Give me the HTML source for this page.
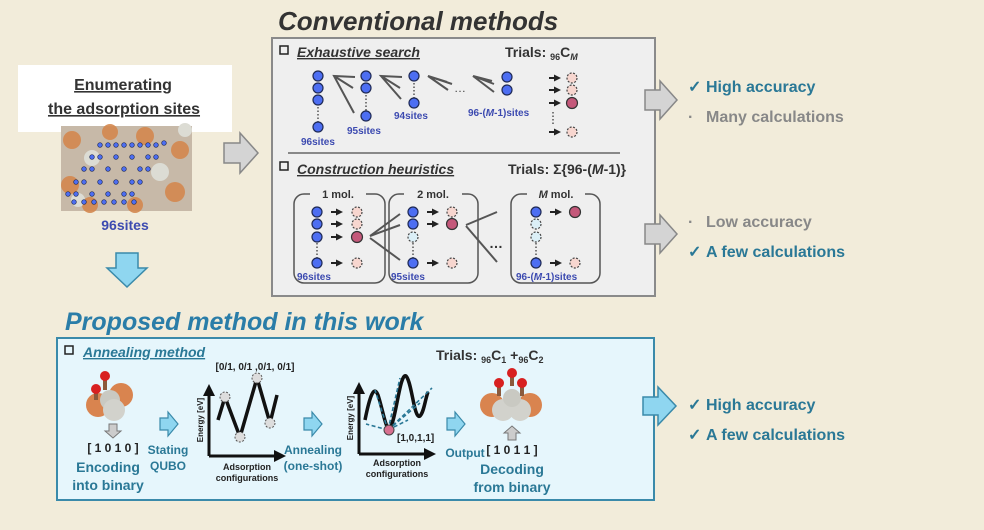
<!DOCTYPE html>
<html><head><meta charset="utf-8"><style>
body{margin:0;background:#f2ecda;}
svg{display:block;font-family:"Liberation Sans",sans-serif;}
</style></head><body>
<svg width="984" height="530" viewBox="0 0 984 530" xmlns="http://www.w3.org/2000/svg">
<defs>
<marker id="ah" markerUnits="userSpaceOnUse" markerWidth="7" markerHeight="7" refX="4" refY="3.5" orient="auto"><path d="M0,0 L7,3.5 L0,7 z" fill="#222"/></marker>
<marker id="ah2" markerUnits="userSpaceOnUse" markerWidth="12" markerHeight="12" refX="6" refY="6" orient="auto"><path d="M0,0 L12,6 L0,12 z" fill="#111"/></marker>
<g id="b"><circle r="5" fill="#4d6ef2" stroke="#1f2a55" stroke-width="1.2"/></g>
<g id="p"><circle r="5" fill="#f7d6cf" stroke="#444" stroke-width="1.2" stroke-dasharray="2,1.5"/></g>
<g id="r"><circle r="5.5" fill="#c4587a" stroke="#333" stroke-width="1.2"/></g>
<g id="c"><circle r="5" fill="#dbeff7" stroke="#444" stroke-width="1.2" stroke-dasharray="2,1.5"/></g>
<g id="ar"><line x1="0" y1="0" x2="9" y2="0" stroke="#222" stroke-width="2" marker-end="url(#ah)"/></g>
</defs>
<rect width="984" height="530" fill="#f2ecda"/>

<!-- Conventional -->
<text x="278" y="30" font-size="26" font-weight="bold" font-style="italic" fill="#333">Conventional methods</text>
<rect x="272" y="38" width="383" height="258" fill="#efefef" stroke="#8a8a8a" stroke-width="2"/>
<rect x="280" y="46" width="8" height="8" fill="none" stroke="#222" stroke-width="1.5"/>
<text x="297" y="57" font-size="14" font-weight="bold" font-style="italic" fill="#333" text-decoration="underline">Exhaustive search</text>
<text x="505" y="57" font-size="14" font-weight="bold" fill="#333">Trials: <tspan font-size="9" dy="3">96</tspan><tspan dy="-3">C</tspan><tspan font-size="9" dy="3" font-style="italic">M</tspan></text>

<g stroke="#555" stroke-width="1.5" stroke-dasharray="1.5,2"><line x1="318" y1="100" x2="318" y2="127"/><line x1="366" y1="88" x2="366" y2="116"/><line x1="414" y1="76" x2="414" y2="103"/><line x1="553" y1="112" x2="553" y2="126"/></g>
<use href="#b" x="318" y="76"/><use href="#b" x="318" y="88"/><use href="#b" x="318" y="100"/><use href="#b" x="318" y="127"/>
<use href="#b" x="366" y="76"/><use href="#b" x="366" y="88"/><use href="#b" x="366" y="116"/>
<use href="#b" x="414" y="76"/><use href="#b" x="414" y="103"/>
<use href="#b" x="507" y="77"/><use href="#b" x="507" y="90"/>
<g stroke="#555" stroke-width="2" fill="none">
<path d="M355,77 L334,76 L354,113 M334,76 L353,88"/>
<path d="M402,77 L381,76 L401,99 M381,76 L400,88"/>
<path d="M452,84 L428,76 L448,90 M428,76 L447,82"/>
<path d="M494,84 L473,76 L494,92 M473,76 L492,81"/>
</g>
<text x="454" y="92" font-size="12" fill="#444">…</text>
<g font-size="10" font-weight="bold" fill="#3c4ab0">
<text x="301" y="145">96sites</text><text x="347" y="134">95sites</text><text x="394" y="119">94sites</text><text x="468" y="116">96-(<tspan font-style="italic">M</tspan>-1)sites</text>
</g>
<use href="#ar" x="549" y="78"/><use href="#ar" x="549" y="90"/><use href="#ar" x="549" y="103"/><use href="#ar" x="549" y="132"/>
<use href="#p" x="572" y="78"/><use href="#p" x="572" y="90"/><use href="#r" x="572" y="103"/><use href="#p" x="572" y="132"/>
<line x1="288" y1="153" x2="620" y2="153" stroke="#666" stroke-width="1.5"/>

<rect x="280" y="162" width="8" height="8" fill="none" stroke="#222" stroke-width="1.5"/>
<text x="297" y="174" font-size="14" font-weight="bold" font-style="italic" fill="#333" text-decoration="underline">Construction heuristics</text>
<text x="508" y="174" font-size="14" font-weight="bold" fill="#333">Trials: Σ{96-(<tspan font-style="italic">M</tspan>-1)}</text>

<g fill="none" stroke="#555" stroke-width="1.5">
<rect x="294" y="194" width="91" height="89" rx="10"/>
<rect x="389" y="194" width="89" height="89" rx="10"/>
<rect x="511" y="194" width="89" height="89" rx="10"/>
</g>
<g font-size="11" font-weight="bold" fill="#333" text-anchor="middle">
<rect x="310" y="188" width="56" height="12" fill="#efefef"/><text x="338" y="198">1 mol.</text>
<rect x="404" y="188" width="58" height="12" fill="#efefef"/><text x="433" y="198">2 mol.</text>
<rect x="527" y="188" width="58" height="12" fill="#efefef"/><text x="556" y="198"><tspan font-style="italic">M</tspan> mol.</text>
</g>
<g stroke="#555" stroke-width="1.5" stroke-dasharray="1.5,2"><line x1="317" y1="243" x2="317" y2="258"/><line x1="413" y1="243" x2="413" y2="258"/><line x1="536" y1="243" x2="536" y2="258"/></g>
<use href="#b" x="317" y="212"/><use href="#b" x="317" y="224"/><use href="#b" x="317" y="237"/><use href="#b" x="317" y="263"/>
<use href="#ar" x="331" y="212"/><use href="#ar" x="331" y="224"/><use href="#ar" x="331" y="237"/><use href="#ar" x="331" y="263"/>
<use href="#p" x="357" y="212"/><use href="#p" x="357" y="224"/><use href="#r" x="357" y="237"/><use href="#p" x="357" y="263"/>
<use href="#b" x="413" y="212"/><use href="#b" x="413" y="224"/><use href="#c" x="413" y="237"/><use href="#b" x="413" y="263"/>
<use href="#ar" x="427" y="212"/><use href="#ar" x="427" y="224"/><use href="#ar" x="427" y="263"/>
<use href="#p" x="452" y="212"/><use href="#r" x="452" y="224"/><use href="#p" x="452" y="263"/>
<use href="#b" x="536" y="212"/><use href="#c" x="536" y="224"/><use href="#c" x="536" y="237"/><use href="#b" x="536" y="263"/>
<use href="#ar" x="550" y="212"/><use href="#ar" x="550" y="263"/>
<use href="#r" x="575" y="212"/><use href="#p" x="575" y="263"/>
<g stroke="#555" stroke-width="2">
<line x1="370" y1="236" x2="400" y2="214"/><line x1="370" y1="236" x2="400" y2="225"/><line x1="370" y1="238" x2="400" y2="260"/>
<line x1="466" y1="225" x2="497" y2="212"/><line x1="466" y1="226" x2="497" y2="262"/>
</g>
<text x="489" y="248" font-size="14" font-weight="bold" fill="#333">…</text>
<g font-size="10" font-weight="bold" fill="#3c4ab0">
<text x="297" y="280">96sites</text><text x="391" y="280">95sites</text><text x="516" y="280">96-(<tspan font-style="italic">M</tspan>-1)sites</text>
</g>

<!-- left -->
<rect x="18" y="65" width="214" height="67" fill="#fff"/>
<g font-size="16" font-weight="bold" fill="#333" text-anchor="middle" text-decoration="underline">
<text x="123" y="90">Enumerating</text><text x="124" y="114">the adsorption sites</text>
</g>
<rect x="61" y="126" width="131" height="85" fill="#c7b9a8"/>
<g fill="#d4884f" opacity="0.9">
<circle cx="72" cy="140" r="9"/><circle cx="110" cy="132" r="8"/><circle cx="145" cy="136" r="9"/><circle cx="180" cy="150" r="9"/><circle cx="70" cy="185" r="9"/><circle cx="175" cy="192" r="10"/><circle cx="135" cy="205" r="8"/><circle cx="90" cy="205" r="8"/>
</g>
<g fill="#dcdcd4"><circle cx="92" cy="158" r="8"/><circle cx="160" cy="172" r="9"/><circle cx="78" cy="200" r="7"/><circle cx="185" cy="130" r="7"/></g>
<g fill="#4d6ef2" stroke="#1f2a55" stroke-width="0.7">
<circle cx="100" cy="145" r="2.3"/><circle cx="108" cy="145" r="2.3"/><circle cx="116" cy="145" r="2.3"/><circle cx="124" cy="145" r="2.3"/><circle cx="132" cy="145" r="2.3"/><circle cx="140" cy="145" r="2.3"/><circle cx="148" cy="145" r="2.3"/><circle cx="156" cy="145" r="2.3"/><circle cx="164" cy="143" r="2.3"/>
<circle cx="92" cy="157" r="2.3"/><circle cx="100" cy="157" r="2.3"/><circle cx="116" cy="157" r="2.3"/><circle cx="132" cy="157" r="2.3"/><circle cx="148" cy="157" r="2.3"/><circle cx="156" cy="157" r="2.3"/>
<circle cx="84" cy="169" r="2.3"/><circle cx="92" cy="169" r="2.3"/><circle cx="108" cy="169" r="2.3"/><circle cx="124" cy="169" r="2.3"/><circle cx="140" cy="169" r="2.3"/><circle cx="148" cy="169" r="2.3"/>
<circle cx="76" cy="182" r="2.3"/><circle cx="84" cy="182" r="2.3"/><circle cx="100" cy="182" r="2.3"/><circle cx="116" cy="182" r="2.3"/><circle cx="132" cy="182" r="2.3"/><circle cx="140" cy="182" r="2.3"/>
<circle cx="68" cy="194" r="2.3"/><circle cx="76" cy="194" r="2.3"/><circle cx="92" cy="194" r="2.3"/><circle cx="108" cy="194" r="2.3"/><circle cx="124" cy="194" r="2.3"/><circle cx="132" cy="194" r="2.3"/>
<circle cx="74" cy="202" r="2.3"/><circle cx="84" cy="202" r="2.3"/><circle cx="94" cy="202" r="2.3"/><circle cx="104" cy="202" r="2.3"/><circle cx="114" cy="202" r="2.3"/><circle cx="124" cy="202" r="2.3"/><circle cx="134" cy="202" r="2.3"/>
</g>
<text x="125" y="230" font-size="14" font-weight="bold" fill="#3c4ab0" text-anchor="middle">96sites</text>
<path d="M224,143 L240,143 L240,133 L258,153 L240,173 L240,163 L224,163 Z" fill="#d4d4d4" stroke="#888" stroke-width="1.5"/>
<path d="M116,253 L138,253 L138,268 L147,268 L127,287 L107,268 L116,268 Z" fill="#8fd6f0" stroke="#3a8aaa" stroke-width="1.5"/>

<!-- Proposed -->
<text x="65" y="330" font-size="25" font-weight="bold" font-style="italic" fill="#2a7da8">Proposed method in this work</text>
<rect x="57" y="338" width="597" height="162" fill="#e6f6fc" stroke="#3a8aaa" stroke-width="2"/>
<rect x="65" y="346" width="8" height="8" fill="none" stroke="#222" stroke-width="1.5"/>
<text x="83" y="357" font-size="14" font-weight="bold" font-style="italic" fill="#2a7896" text-decoration="underline">Annealing method</text>
<text x="436" y="360" font-size="14" font-weight="bold" fill="#333">Trials: <tspan font-size="9" dy="3">96</tspan><tspan dy="-3">C</tspan><tspan font-size="9" dy="3">1</tspan><tspan dy="-3"> +</tspan><tspan font-size="9" dy="3">96</tspan><tspan dy="-3">C</tspan><tspan font-size="9" dy="3">2</tspan></text>

<!-- right text + arrows -->
<path d="M645,90 L660,90 L660,81 L677,100 L660,119 L660,110 L645,110 Z" fill="#d4d4d4" stroke="#888" stroke-width="1.5"/>
<path d="M645,224 L660,224 L660,215 L677,234 L660,253 L660,244 L645,244 Z" fill="#d4d4d4" stroke="#888" stroke-width="1.5"/>
<path d="M643,397 L658,397 L658,387 L676,406 L658,425 L658,415 L643,415 Z" fill="#8fd6f0" stroke="#3a8aaa" stroke-width="1.5"/>
<g font-size="16" font-weight="bold">
<text x="688" y="92" fill="#2a7896">✓ <tspan x="706">High accuracy</tspan></text>
<text x="688" y="122" fill="#888">· <tspan x="706">Many calculations</tspan></text>
<text x="688" y="227" fill="#888">· <tspan x="706">Low accuracy</tspan></text>
<text x="688" y="257" fill="#2a7896">✓ <tspan x="706">A few calculations</tspan></text>
<text x="688" y="410" fill="#2a7896">✓ <tspan x="706">High accuracy</tspan></text>
<text x="688" y="440" fill="#2a7896">✓ <tspan x="706">A few calculations</tspan></text>
</g>

<!-- molecule 1 -->
<g>
<circle cx="121" cy="395" r="12" fill="#d9844f"/><circle cx="98" cy="405" r="12" fill="#d9844f"/><circle cx="110" cy="400" r="10" fill="#c9c9c2"/><circle cx="114" cy="410" r="11" fill="#d2d2cc"/>
<rect x="103" y="378" width="4" height="12" fill="#8b5a3c"/><rect x="94" y="390" width="4" height="10" fill="#8b5a3c"/>
<circle cx="105" cy="376" r="5" fill="#d82020"/><circle cx="96" cy="389" r="5" fill="#d82020"/>
</g>
<path d="M109,424 L117,424 L117,431 L121,431 L113,438 L105,431 L109,431 Z" fill="#ccc" stroke="#777"/>
<text x="113" y="452" font-size="12" font-weight="bold" fill="#222" text-anchor="middle">[ 1 0 1 0 ]</text>
<g font-size="14" font-weight="bold" fill="#2a7896" text-anchor="middle">
<text x="108" y="472">Encoding</text><text x="108" y="490">into binary</text>
<text x="465" y="457" font-size="12">Output</text>
<text x="512" y="474">Decoding</text><text x="512" y="492">from binary</text>
</g>
<g font-size="12" font-weight="bold" fill="#2a7896" text-anchor="middle">
<text x="168" y="454">Stating</text><text x="168" y="470">QUBO</text>
<text x="313" y="454">Annealing</text><text x="313" y="470">(one-shot)</text>
</g>
<g fill="#8fd6f0" stroke="#3a8aaa" stroke-width="1.2">
<path d="M160,418 L168,418 L168,412 L178,424 L168,436 L168,430 L160,430 Z"/>
<path d="M304,418 L312,418 L312,412 L322,424 L312,436 L312,430 L304,430 Z"/>
<path d="M447,418 L455,418 L455,412 L465,424 L455,436 L455,430 L447,430 Z"/>
</g>

<!-- graph 1 -->
<text x="255" y="370" font-size="10" font-weight="bold" fill="#222" text-anchor="middle">[0/1, 0/1 ,0/1, 0/1]</text>
<line x1="209" y1="456" x2="209" y2="390" stroke="#111" stroke-width="3" marker-end="url(#ah2)"/>
<line x1="209" y1="456" x2="280" y2="456" stroke="#111" stroke-width="3" marker-end="url(#ah2)"/>
<polyline points="218,420 225,397 240,437 257,378 270,423 277,395" fill="none" stroke="#111" stroke-width="3.5" stroke-linejoin="round"/>
<g fill="#ddd" stroke="#555" stroke-dasharray="2,1.5"><circle cx="225" cy="397" r="5"/><circle cx="240" cy="437" r="5"/><circle cx="257" cy="378" r="5"/><circle cx="270" cy="423" r="5"/></g>
<text transform="translate(203,420) rotate(-90)" font-size="8" font-weight="bold" fill="#222" text-anchor="middle">Energy [eV]</text>
<g font-size="9" font-weight="bold" fill="#222" text-anchor="middle"><text x="247" y="470">Adsorption</text><text x="247" y="481">configurations</text>
<text x="397" y="466">Adsorption</text><text x="397" y="477">configurations</text></g>

<!-- graph 2 -->
<line x1="359" y1="454" x2="359" y2="388" stroke="#111" stroke-width="3" marker-end="url(#ah2)"/>
<line x1="359" y1="454" x2="430" y2="454" stroke="#111" stroke-width="3" marker-end="url(#ah2)"/>
<path d="M365,420 C370,395 374,385 378,395 C383,410 386,432 390,428 C396,420 400,372 406,376 C412,382 414,420 420,416 C424,412 425,400 428,392" fill="none" stroke="#111" stroke-width="3.5"/>
<g stroke="#2a7896" stroke-width="1.6" stroke-dasharray="4,2.5" fill="none">
<line x1="388" y1="430" x2="366" y2="424"/><line x1="388" y1="430" x2="375" y2="390"/><line x1="388" y1="430" x2="400" y2="378"/><line x1="388" y1="430" x2="420" y2="403"/><line x1="388" y1="430" x2="432" y2="388"/><line x1="388" y1="430" x2="408" y2="420"/>
</g>
<circle cx="389" cy="430" r="5" fill="#d87090" stroke="#444"/>
<text x="353" y="418" transform="rotate(-90,353,418)" font-size="8" font-weight="bold" fill="#222" text-anchor="middle">Energy [eV]</text>
<text x="397" y="441" font-size="10" font-weight="bold" fill="#222">[1,0,1,1]</text>

<!-- molecule 2 -->
<g>
<circle cx="492" cy="405" r="12" fill="#d9844f"/><circle cx="530" cy="405" r="12" fill="#d9844f"/><circle cx="503" cy="410" r="11" fill="#d2d2cc"/><circle cx="520" cy="410" r="11" fill="#d2d2cc"/><circle cx="512" cy="398" r="9" fill="#c9c9c2"/>
<rect x="497" y="384" width="4" height="12" fill="#8b5a3c"/><rect x="510" y="374" width="4" height="12" fill="#8b5a3c"/><rect x="520" y="384" width="4" height="12" fill="#8b5a3c"/>
<circle cx="499" cy="383" r="5" fill="#d82020"/><circle cx="512" cy="373" r="5" fill="#d82020"/><circle cx="522" cy="383" r="5" fill="#d82020"/>
</g>
<path d="M508,440 L516,440 L516,433 L520,433 L512,426 L504,433 L508,433 Z" fill="#ccc" stroke="#777"/>
<text x="512" y="454" font-size="12" font-weight="bold" fill="#222" text-anchor="middle">[ 1 0 1 1 ]</text>
</svg>
</body></html>
